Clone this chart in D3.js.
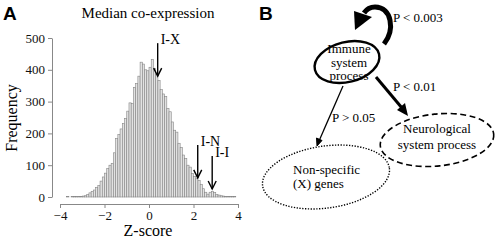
<!DOCTYPE html>
<html><head><meta charset="utf-8">
<script src="https://cdn.jsdelivr.net/npm/d3@7"></script>
<style>
body{margin:0;background:#fff}
svg{display:block}
text{font-family:"Liberation Serif","Times New Roman",Times,"DejaVu Serif",serif}
text.panel{font-family:"Liberation Sans",Arial,Helvetica,sans-serif;font-weight:bold}
</style>
</head><body>
<svg id="c" width="500" height="240"></svg>
<script>
// ---- Data ----
const binStarts = d3.range(-40, 40).map(i => i / 10);
const frequencies = [0,0,0,1,0,1,2,1,2,2,
  3,4,8,13,18,22,30,36,50,63,
  75,90,100,106,139,184,197,214,231,247,
  270,296,294,345,357,380,424,418,400,397,
  408,433,404,385,367,338,324,316,278,268,
  236,210,204,169,156,132,121,100,94,74,
  64,59,52,40,26,15,9,15,18,14,
  8,6,4,3,2,2,1,1,1,0];
const xTicks = [-4, -2, 0, 2, 4];
const yTicks = [0, 100, 200, 300, 400, 500];
const markerLabels = ["I-X", "I-N", "I-I"];
const markerZ = [0.39, 2.19, 2.84];
const markerFreq = [380, 60, 25];
const nodeLabels = [["Immune", "system", "process"], ["Neurological", "system process"], ["Non-specific", "(X) genes"]];
const edgeLabels = ["P < 0.003", "P < 0.01", "P > 0.05"];

const svg = d3.select("#c");

// ---- Panel A ----
const x = d3.scaleLinear().domain([-4, 4]).range([60, 238]);
const y = d3.scaleLinear().domain([0, 500]).range([197, 38]);
const bw = x(0.1) - x(0);

svg.append("text").attr("class", "panel").attr("x", 3).attr("y", 20).text("A").attr("font-size", 19);
svg.append("text").attr("x", 148).attr("y", 18).attr("text-anchor", "middle").text("Median co-expression")
  .attr("font-size", 15);

svg.append("g").selectAll("rect").data(frequencies).join("rect")
  .attr("x", (d, i) => x(binStarts[i]))
  .attr("y", d => y(d))
  .attr("width", bw)
  .attr("height", d => y(0) - y(d))
  .attr("fill", "#e2e2e2").attr("stroke", "#858585").attr("stroke-width", 0.6);

const yAxis = svg.append("g").attr("transform", "translate(52,0)")
  .call(d3.axisLeft(y).tickValues(yTicks).tickSize(4).tickSizeOuter(0));
const xAxis = svg.append("g").attr("transform", "translate(0,204)")
  .call(d3.axisBottom(x).tickValues(xTicks).tickSize(4).tickSizeOuter(0).tickFormat(d3.format("d")));
[yAxis, xAxis].forEach(g => {
  g.attr("font-family", null);
  g.select(".domain").attr("stroke", "#888");
  g.selectAll(".tick line").attr("stroke", "#888");
  g.selectAll("text").attr("font-size", 13).attr("fill", "#111");
});

svg.append("text").attr("x", 148).attr("y", 236).attr("text-anchor", "middle").text("Z-score")
  .attr("font-size", 16);
svg.append("text").attr("transform", "translate(17,118) rotate(-90)").attr("text-anchor", "middle").text("Frequency")
  .attr("font-size", 16);

// marker arrows
const mk = svg.append("g");
markerLabels.forEach((lab, i) => {
  const tx = x(markerZ[i]), ty = y(markerFreq[i]);
  mk.append("line").attr("x1", tx).attr("x2", tx).attr("y1", ty - 33).attr("y2", ty)
    .attr("stroke", "#000").attr("stroke-width", 1.4);
  mk.append("path").attr("d", `M${tx - 4},${ty - 8} L${tx},${ty} L${tx + 4},${ty - 8}`)
    .attr("fill", "none").attr("stroke", "#000").attr("stroke-width", 1.4);
  mk.append("text").attr("x", tx + 3).attr("y", ty - 32).text(lab).attr("font-size", 14);
});

// ---- Panel B ----
svg.append("text").attr("class", "panel").attr("x", 259).attr("y", 20).text("B").attr("font-size", 19);

const B = svg.append("g");
B.append("ellipse").attr("cx", 347).attr("cy", 62).attr("rx", 33).attr("ry", 20)
  .attr("transform", "rotate(-14,347,62)")
  .attr("fill", "none").attr("stroke", "#000").attr("stroke-width", 2.4);
B.append("ellipse").attr("cx", 437).attr("cy", 140).attr("rx", 57).attr("ry", 26)
  .attr("transform", "rotate(-6,437,140)")
  .attr("fill", "none").attr("stroke", "#000").attr("stroke-width", 1.6).attr("stroke-dasharray", "6,3.5");
B.append("ellipse").attr("cx", 326).attr("cy", 177).attr("rx", 64).attr("ry", 31)
  .attr("transform", "rotate(-8,326,177)")
  .attr("fill", "none").attr("stroke", "#000").attr("stroke-width", 1.4).attr("stroke-dasharray", "1.3,1.5");

const nodeText = [
  {x: 349, y: 53, anchor: "middle", lh: 13.5},
  {x: 437, y: 133, anchor: "middle", lh: 16},
  {x: 293, y: 174, anchor: "start", lh: 14}
];
nodeLabels.forEach((lines, i) => {
  const t = B.append("text").attr("font-size", 13).attr("text-anchor", nodeText[i].anchor);
  lines.forEach((l, j) => t.append("tspan").attr("x", nodeText[i].x).attr("y", nodeText[i].y + j * nodeText[i].lh).text(l));
});

// self loop
B.append("path").attr("d", "M384,44 C395,30 392,7 375,7 C369,7 366,10 364,13")
  .attr("fill", "none").attr("stroke", "#000").attr("stroke-width", 5);
B.append("path").attr("d", "M355,30 L354,11 L372,17 Z").attr("fill", "#000");

// immune -> neurological
B.append("line").attr("x1", 376).attr("y1", 77).attr("x2", 402).attr("y2", 108)
  .attr("stroke", "#000").attr("stroke-width", 3);
B.append("path").attr("d", "M408,116 L397,110 L405,103 Z").attr("fill", "#000");

// immune -> non-specific
B.append("line").attr("x1", 343).attr("y1", 86).attr("x2", 319).attr("y2", 141)
  .attr("stroke", "#000").attr("stroke-width", 1.3);
B.append("path").attr("d", "M317,146 L316.5,138 L322,140.5 Z").attr("fill", "#000").attr("stroke", "#000").attr("stroke-width", 1);

const edgePos = [[393, 22], [393, 91], [332, 122]];
edgeLabels.forEach((l, i) => B.append("text").attr("x", edgePos[i][0]).attr("y", edgePos[i][1]).text(l).attr("font-size", 13));
</script>
</body></html>
